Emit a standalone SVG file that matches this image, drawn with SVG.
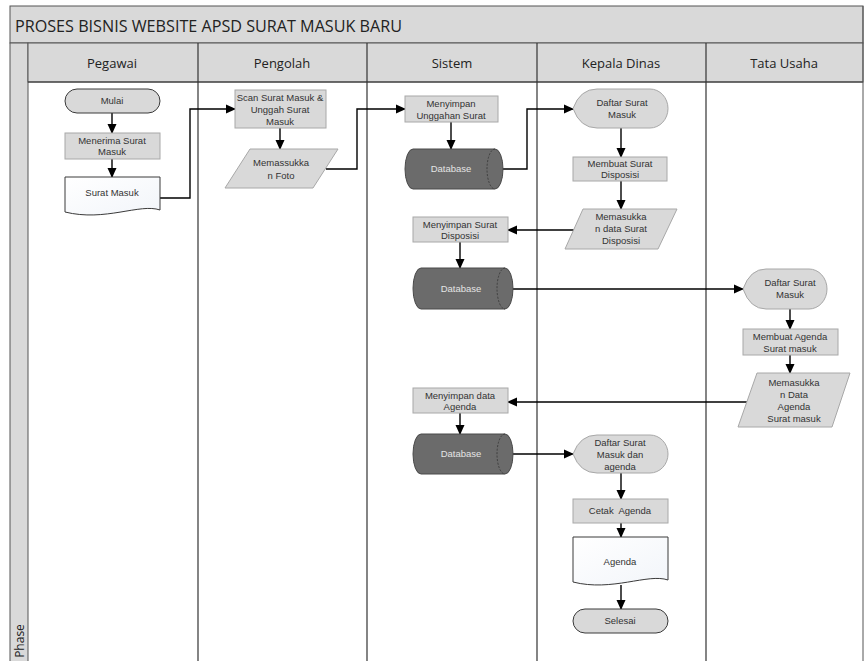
<svg xmlns="http://www.w3.org/2000/svg" width="864" height="661" viewBox="0 0 864 661">
<defs>
<marker id="ah" markerWidth="10" markerHeight="10" refX="9" refY="5" orient="auto" markerUnits="userSpaceOnUse">
<path d="M0,0.5 L10,5 L0,9.5 Z" fill="#000"/>
</marker>
<linearGradient id="doc" x1="0" y1="0" x2="1" y2="1">
<stop offset="0" stop-color="#ffffff"/>
<stop offset="1" stop-color="#f2f5fa"/>
</linearGradient>
</defs>
<style>
.t{font-family:"Liberation Sans",Arial,sans-serif;font-size:9.5px;fill:#333;text-anchor:middle}
.h{font-family:"Open Sans","Liberation Sans",sans-serif;font-size:13px;fill:#222;text-anchor:middle}
.box{fill:#d9d9d9;stroke:#a8a8a8;stroke-width:1}
.term{fill:#d9d9d9;stroke:#3a3a3a;stroke-width:1}
.doc{fill:url(#doc);stroke:#3a3a3a;stroke-width:1}
.db{fill:#6b6b6b;stroke:#4a4a4a;stroke-width:1}
.dbt{font-family:"Liberation Sans",Arial,sans-serif;font-size:9.5px;fill:#e4e4e4;text-anchor:middle}
.par{fill:#d9d9d9;stroke:#a8a8a8;stroke-width:1}
.disp{fill:#d9d9d9;stroke:#a8a8a8;stroke-width:1}
.c{fill:none;stroke:#000;stroke-width:1.4;marker-end:url(#ah)}
.lane{stroke:#333;stroke-width:1.2;fill:none}
</style>
<rect x="0" y="0" width="864" height="661" fill="#fff"/>
<g id="frame">
<rect x="10" y="6" width="853" height="37" fill="#d9d9d9" stroke="#555" stroke-width="1"/>
<text x="15" y="32" font-family="Open Sans,Liberation Sans,sans-serif" font-size="16" fill="#222" textLength="387" lengthAdjust="spacingAndGlyphs">PROSES BISNIS WEBSITE APSD SURAT MASUK BARU</text>
<rect x="10" y="43" width="18" height="620" fill="#d9d9d9" stroke="#555" stroke-width="1"/>
<text x="0" y="0" transform="translate(24,641) rotate(-90)" font-family="Open Sans,Liberation Sans,sans-serif" font-size="12" fill="#222" text-anchor="middle">Phase</text>
<rect x="28" y="43" width="835" height="39" fill="#d9d9d9" stroke="#555" stroke-width="1"/>
<line class="lane" x1="28" y1="82" x2="863" y2="82"/>
<line class="lane" x1="198" y1="43" x2="198" y2="661"/>
<line class="lane" x1="367" y1="43" x2="367" y2="661"/>
<line class="lane" x1="537" y1="43" x2="537" y2="661"/>
<line class="lane" x1="706" y1="43" x2="706" y2="661"/>
<line x1="863" y1="6" x2="863" y2="661" stroke="#555" stroke-width="1"/>
<text class="h" x="112" y="68">Pegawai</text>
<text class="h" x="282" y="68">Pengolah</text>
<text class="h" x="452" y="68">Sistem</text>
<text class="h" x="621" y="68">Kepala Dinas</text>
<text class="h" x="784" y="68">Tata Usaha</text>
</g>
<g id="connectors">
<path class="c" d="M112,113 V133"/>
<path class="c" d="M112,159 V177"/>
<path class="c" d="M160,198 H190 V109 H235"/>
<path class="c" d="M280,128 V149"/>
<path class="c" d="M326,169 H357 V109 H405"/>
<path class="c" d="M451,122 V149"/>
<path class="c" d="M503,169 H527 V109 H573"/>
<path class="c" d="M621,128 V157"/>
<path class="c" d="M621,181 V209"/>
<path class="c" d="M574,230 H508"/>
<path class="c" d="M460,242 V268"/>
<path class="c" d="M513,289 H743"/>
<path class="c" d="M790,309 V329"/>
<path class="c" d="M790,355 V373"/>
<path class="c" d="M747,402 H508"/>
<path class="c" d="M460,413 V434"/>
<path class="c" d="M513,454 H573"/>
<path class="c" d="M621,473 V499"/>
<path class="c" d="M621,523 V537"/>
<path class="c" d="M621,585 V609"/>
</g>
<g id="mulai">
<rect class="term" x="65" y="89" width="95" height="24" rx="12"/>
<text class="t" x="112" y="104">Mulai</text>
</g>
<g id="menerima">
<rect class="box" x="65" y="133" width="95" height="26"/>
<text class="t" x="112" y="144">Menerima Surat</text>
<text class="t" x="112" y="155">Masuk</text>
</g>
<g id="suratmasuk">
<path class="doc" d="M65,177 H160 V210 C140,203 105,222 65,212 Z"/>
<text class="t" x="112" y="196">Surat Masuk</text>
</g>
<g id="scan">
<rect class="box" x="235" y="90" width="91" height="38"/>
<text class="t" x="280" y="101">Scan Surat Masuk &amp;</text>
<text class="t" x="280" y="113">Unggah Surat</text>
<text class="t" x="280" y="125">Masuk</text>
</g>
<g id="foto">
<path class="par" d="M250,149 H338 L313,188 H225 Z"/>
<text class="t" x="281" y="166">Memassukka</text>
<text class="t" x="281" y="179">n Foto</text>
</g>
<g id="simpan1">
<rect class="box" x="405" y="96" width="93" height="26"/>
<text class="t" x="451" y="107">Menyimpan</text>
<text class="t" x="451" y="119">Unggahan Surat</text>
</g>
<g id="db1">
<path class="db" d="M413,149 H495 A8,20 0 0 1 495,189 H413 A8,20 0 0 1 413,149 Z"/>
<path d="M495,149 A8,20 0 0 0 495,189" fill="none" stroke="#333" stroke-width="0.8" stroke-dasharray="2,1.5"/>
<text class="dbt" x="451" y="172">Database</text>
</g>
<g id="daftar1">
<path class="disp" d="M573,108.5 Q580,89 597,89 H650 A18,19.5 0 0 1 650,128 H597 Q580,128 573,108.5 Z"/>
<text class="t" x="622" y="106">Daftar Surat</text>
<text class="t" x="622" y="118">Masuk</text>
</g>
<g id="disposisi">
<rect class="box" x="573" y="157" width="94" height="24"/>
<text class="t" x="620" y="167">Membuat Surat</text>
<text class="t" x="620" y="178">Disposisi</text>
</g>
<g id="inputdisposisi">
<path class="par" d="M583,209 H677 L658,249 H565 Z"/>
<text class="t" x="621" y="220">Memasukka</text>
<text class="t" x="621" y="232">n data Surat</text>
<text class="t" x="621" y="244">Disposisi</text>
</g>
<g id="simpan2">
<rect class="box" x="413" y="217" width="95" height="25"/>
<text class="t" x="460" y="228">Menyimpan Surat</text>
<text class="t" x="460" y="239">Disposisi</text>
</g>
<g id="db2">
<path class="db" d="M421,268 H505 A8,20.5 0 0 1 505,309 H421 A8,20.5 0 0 1 421,268 Z"/>
<path d="M505,268 A8,20.5 0 0 0 505,309" fill="none" stroke="#333" stroke-width="0.8" stroke-dasharray="2,1.5"/>
<text class="dbt" x="461" y="292">Database</text>
</g>
<g id="daftar2">
<path class="disp" d="M743,289 Q750,269 766,269 H809 A18,20 0 0 1 809,309 H766 Q750,309 743,289 Z"/>
<text class="t" x="790" y="286">Daftar Surat</text>
<text class="t" x="790" y="298">Masuk</text>
</g>
<g id="agenda1">
<rect class="box" x="743" y="329" width="95" height="26"/>
<text class="t" x="790" y="340">Membuat Agenda</text>
<text class="t" x="790" y="352">Surat masuk</text>
</g>
<g id="inputagenda">
<path class="par" d="M757,373 H850 L832,427 H738 Z"/>
<text class="t" x="794" y="386">Memasukka</text>
<text class="t" x="794" y="398">n Data</text>
<text class="t" x="794" y="410">Agenda</text>
<text class="t" x="794" y="422">Surat masuk</text>
</g>
<g id="simpan3">
<rect class="box" x="413" y="388" width="95" height="25"/>
<text class="t" x="460" y="399">Menyimpan data</text>
<text class="t" x="460" y="410">Agenda</text>
</g>
<g id="db3">
<path class="db" d="M421,434 H505 A8,20 0 0 1 505,474 H421 A8,20 0 0 1 421,434 Z"/>
<path d="M505,434 A8,20 0 0 0 505,474" fill="none" stroke="#333" stroke-width="0.8" stroke-dasharray="2,1.5"/>
<text class="dbt" x="461" y="457">Database</text>
</g>
<g id="daftar3">
<path class="disp" d="M573,454 Q580,435 597,435 H650 A18,19 0 0 1 650,473 H597 Q580,473 573,454 Z"/>
<text class="t" x="620" y="446">Daftar Surat</text>
<text class="t" x="620" y="458">Masuk dan</text>
<text class="t" x="620" y="470">agenda</text>
</g>
<g id="cetak">
<rect class="box" x="573" y="499" width="95" height="24"/>
<text class="t" x="620" y="514" xml:space="preserve">Cetak  Agenda</text>
</g>
<g id="agenda">
<path class="doc" d="M573,537 H668 V580 C648,573 612,592 573,582 Z"/>
<text class="t" x="620" y="565">Agenda</text>
</g>
<g id="selesai">
<rect class="term" x="573" y="609" width="95" height="24" rx="12"/>
<text class="t" x="620" y="624">Selesai</text>
</g>
</svg>
